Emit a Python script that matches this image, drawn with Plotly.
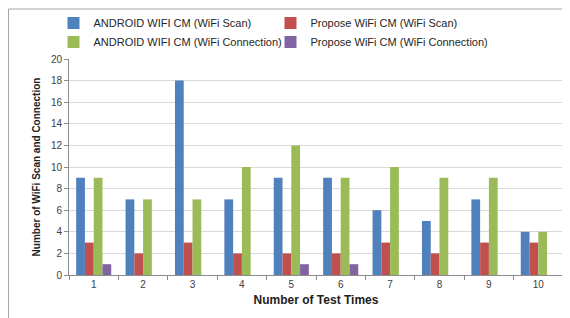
import plotly.graph_objects as go

categories = ["1", "2", "3", "4", "5", "6", "7", "8", "9", "10"]
android_scan = [9, 7, 18, 7, 9, 9, 6, 5, 7, 4]
propose_scan = [3, 2, 3, 2, 2, 2, 3, 2, 3, 3]
android_conn = [9, 7, 7, 10, 12, 9, 10, 9, 9, 4]
propose_conn = [1, 0, 0, 0, 1, 1, 0, 0, 0, 0]

names = ["ANDROID WIFI CM (WiFi Scan)", "Propose WiFi CM (WiFi Scan)",
         "ANDROID WIFI CM (WiFi Connection)", "Propose WiFi CM (WiFi Connection)"]
series = [android_scan, propose_scan, android_conn, propose_conn]
colors = ["#4F81BD", "#C0504D", "#9BBB59", "#8064A2"]
legends = ["legend", "legend", "legend2", "legend2"]

FONT = "Liberation Sans, Arial, sans-serif"
W, H = 562, 310  # page body has an 8px margin
L, R, T, B = 61, 7, 51, 43
PW, PH = W - L - R, H - T - B

fig = go.Figure()
for n, s, c, lg in zip(names, series, colors, legends):
    fig.add_trace(go.Bar(x=categories, y=s, name=n, marker=dict(color=c, line=dict(width=0)),
                         legend=lg))

legend_common = dict(orientation="h", xanchor="left", yanchor="middle",
                     font=dict(family=FONT, size=11, color="#262626"),
                     entrywidth=172, entrywidthmode="pixels",
                     itemwidth=30, bgcolor="rgba(0,0,0,0)",
                     xref="container", yref="container")

fig.update_layout(
    width=W, height=H,
    margin=dict(l=L, r=R, t=T, b=B, autoexpand=False),
    paper_bgcolor="white", plot_bgcolor="white",
    barmode="group", bargap=0.29, bargroupgap=0,
    font=dict(family=FONT, size=10, color="#404040"),
    legend=dict(x=45.5 / W, y=1 - 15 / H, **legend_common),
    legend2=dict(x=45.5 / W, y=1 - 34 / H, **legend_common),
    xaxis=dict(
        type="category",
        showgrid=False,
        showline=True, linecolor="#8c8c8c", linewidth=1,
        ticks="outside", tickson="boundaries", ticklen=4, tickcolor="#8c8c8c",
        tickfont=dict(size=10, color="#404040"),
        title=dict(text="<b>Number of Test Times</b>", font=dict(size=12, color="#222222"),
                   standoff=6),
    ),
    yaxis=dict(
        range=[0, 20], dtick=2,
        showgrid=True, gridcolor="#d9d9d9", gridwidth=1,
        showline=True, linecolor="#8c8c8c", linewidth=1,
        ticks="outside", ticklen=4, tickcolor="#8c8c8c",
        tickfont=dict(size=10, color="#404040"),
        zeroline=False,
        title=dict(text="<b>Number of WiFi Scan and Connection</b>",
                   font=dict(size=10, color="#222222"), standoff=8),
    ),
    shapes=[dict(type="rect", xref="paper", yref="paper",
                 x0=(0.5 - L) / PW, x1=(559 - L) / PW,
                 y0=-(330 - (H - B)) / PH, y1=(H - B - 1) / PH,
                 line=dict(color="#a6a6a6", width=1), fillcolor="rgba(0,0,0,0)",
                 layer="below")],
)

fig.write_html("out.html")
